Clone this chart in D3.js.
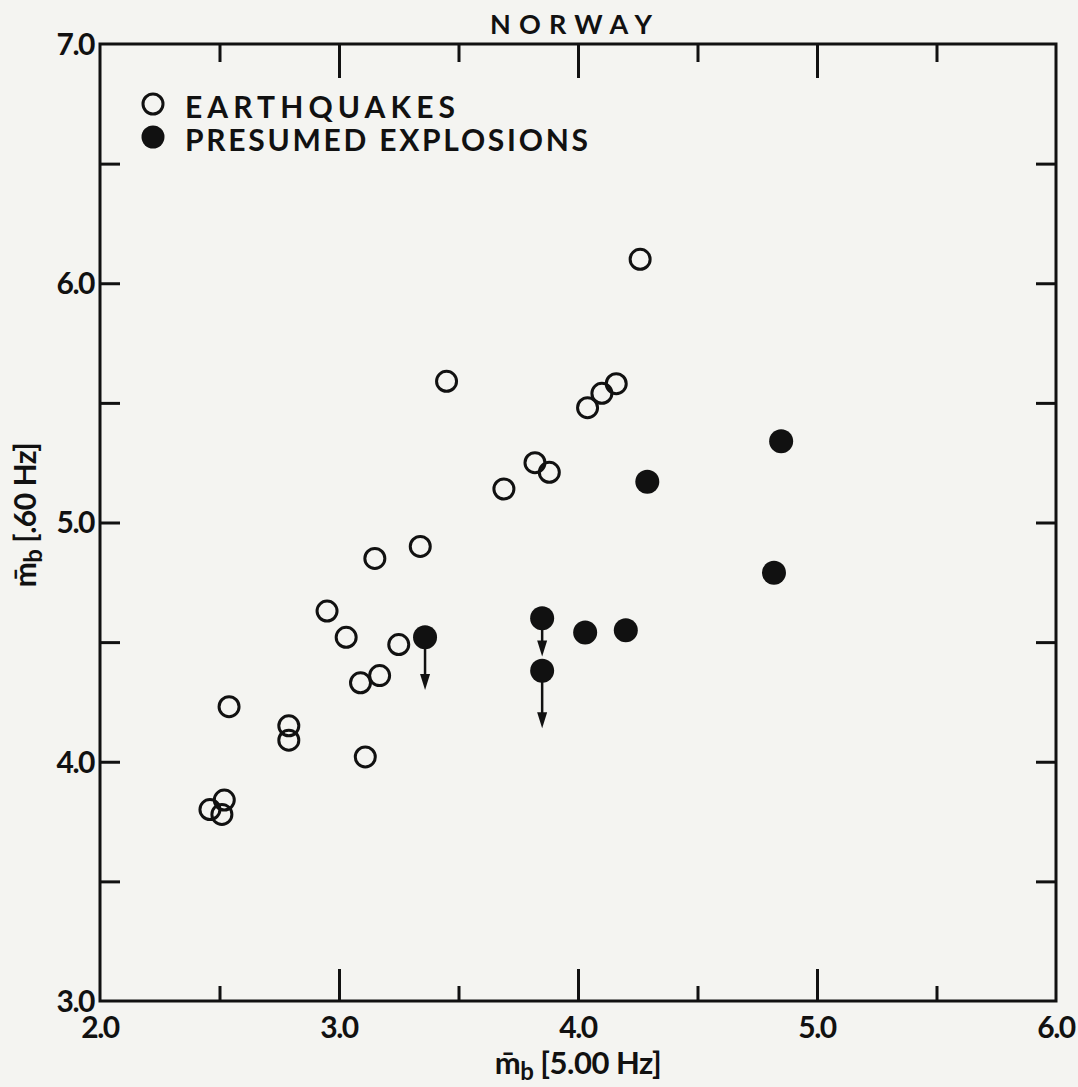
<!DOCTYPE html>
<html>
<head>
<meta charset="utf-8">
<script src="https://cdn.jsdelivr.net/npm/d3@7/dist/d3.min.js"></script>
<style>
  body { margin: 0; background: #f4f4f1; }
  svg { display: block; }
  text { font-family: Lato, "Open Sans", sans-serif; font-weight: bold; fill: #111; }
</style>
</head>
<body>
<div id="chart"></div>
<script>
// 地震 (空心圓)
const quakeX = [2.46, 2.51, 2.52, 2.54, 2.79, 2.79, 2.95, 3.03, 3.09, 3.11, 3.15,
                3.17, 3.25, 3.34, 3.45, 3.69, 3.82, 3.88, 4.04, 4.10, 4.16, 4.26];
const quakeY = [3.80, 3.78, 3.84, 4.23, 4.15, 4.09, 4.63, 4.52, 4.33, 4.02, 4.85,
                4.36, 4.49, 4.90, 5.59, 5.14, 5.25, 5.21, 5.48, 5.54, 5.58, 6.10];

// 推定爆炸 (實心圓)，blastLimit 為箭頭終點 (上限值)
const blastX = [3.36, 3.85, 3.85, 4.03, 4.20, 4.29, 4.82, 4.85];
const blastY = [4.52, 4.60, 4.38, 4.54, 4.55, 5.17, 4.79, 5.34];
const blastLimit = [4.30, 4.44, 4.14, null, null, null, null, null];

// 刻度
const xTickValues = [2.5, 3.0, 3.5, 4.0, 4.5, 5.0, 5.5];
const yTickValues = [3.5, 4.0, 4.5, 5.0, 5.5, 6.0, 6.5];
const xLabelValues = [2, 3, 4, 5, 6];
const yLabelValues = [3, 4, 5, 6, 7];

const title = "NORWAY";
const legendNames = ["EARTHQUAKES", "PRESUMED EXPLOSIONS"];

// 版面
const W = 1078, H = 1087;
const margin = { top: 44, right: 22, bottom: 86, left: 100 };
const width = W - margin.left - margin.right;
const height = H - margin.top - margin.bottom;

const svg = d3.select("#chart")
    .append("svg")
    .attr("width", W)
    .attr("height", H);

svg.append("rect").attr("width", W).attr("height", H).attr("fill", "#f4f4f1");

const g = svg.append("g")
    .attr("transform", `translate(${margin.left}, ${margin.top})`);

const xScale = d3.scaleLinear().domain([2, 6]).range([0, width]);
const yScale = d3.scaleLinear().domain([3, 7]).range([height, 0]);

const isMajor = d => Number.isInteger(d);

// 刻度線 (向內)
function styleTicks(sel) {
    sel.select(".domain").remove();
    sel.selectAll(".tick line").attr("stroke", "#111").attr("stroke-width", 3);
    sel.selectAll(".tick text").remove();
}

g.append("g")
    .attr("transform", `translate(0, ${height})`)
    .call(d3.axisBottom(xScale).tickValues(xTickValues).tickSizeOuter(0))
    .call(styleTicks)
    .selectAll(".tick line").attr("y2", d => isMajor(d) ? -32 : -15);

g.append("g")
    .call(d3.axisTop(xScale).tickValues(xTickValues).tickSizeOuter(0))
    .call(styleTicks)
    .selectAll(".tick line").attr("y2", d => isMajor(d) ? 34 : 18);

g.append("g")
    .call(d3.axisLeft(yScale).tickValues(yTickValues).tickSizeOuter(0))
    .call(styleTicks)
    .selectAll(".tick line").attr("x2", 20);

g.append("g")
    .attr("transform", `translate(${width}, 0)`)
    .call(d3.axisRight(yScale).tickValues(yTickValues).tickSizeOuter(0))
    .call(styleTicks)
    .selectAll(".tick line").attr("x2", -20);

// 外框
g.append("rect")
    .attr("width", width)
    .attr("height", height)
    .attr("fill", "none")
    .attr("stroke", "#111")
    .attr("stroke-width", 3);

// 刻度標籤
g.append("g")
    .selectAll("text")
    .data(xLabelValues)
    .enter().append("text")
    .attr("x", d => xScale(d))
    .attr("y", height + 37)
    .attr("text-anchor", "middle")
    .attr("font-size", 30)
    .attr("letter-spacing", -1.5)
    .text(d => d.toFixed(1));

g.append("g")
    .selectAll("text")
    .data(yLabelValues)
    .enter().append("text")
    .attr("x", -6)
    .attr("y", d => yScale(d))
    .attr("dy", "0.36em")
    .attr("text-anchor", "end")
    .attr("font-size", 30)
    .attr("letter-spacing", -1.5)
    .text(d => d.toFixed(1));

// 標題
svg.append("text")
    .attr("x", 490)
    .attr("y", 34)
    .attr("font-size", 27)
    .attr("textLength", 162)
    .attr("lengthAdjust", "spacing")
    .text(title);

// 軸標題
function axisTitle(sel, unit) {
    sel.append("tspan").text("m\u0304");
    sel.append("tspan").attr("dy", 6).attr("font-size", 24).text("b");
    sel.append("tspan").attr("dy", -6).text(" [" + unit + "]");
}

svg.append("text")
    .attr("x", margin.left + width / 2)
    .attr("y", 1074)
    .attr("text-anchor", "middle")
    .attr("font-size", 31)
    .attr("letter-spacing", -0.5)
    .call(axisTitle, "5.00 Hz");

svg.append("text")
    .attr("transform", "translate(36, 515) rotate(-90)")
    .attr("text-anchor", "middle")
    .attr("font-size", 30)
    .attr("letter-spacing", -0.5)
    .call(axisTitle, ".60 Hz");

// 爆炸點的箭頭 (上限)
const arrowIdx = d3.range(blastX.length).filter(i => blastLimit[i] !== null);
const arrows = g.append("g");
arrows.selectAll("line")
    .data(arrowIdx)
    .enter().append("line")
    .attr("x1", i => xScale(blastX[i]))
    .attr("x2", i => xScale(blastX[i]))
    .attr("y1", i => yScale(blastY[i]))
    .attr("y2", i => yScale(blastLimit[i]) - 8)
    .attr("stroke", "#111")
    .attr("stroke-width", 2.5);
arrows.selectAll("path")
    .data(arrowIdx)
    .enter().append("path")
    .attr("d", i => {
        const x = xScale(blastX[i]), y = yScale(blastLimit[i]);
        return `M${x},${y} L${x - 5},${y - 16} L${x + 5},${y - 16} Z`;
    })
    .attr("fill", "#111");

// 地震點
g.append("g")
    .selectAll("circle")
    .data(quakeX)
    .enter().append("circle")
    .attr("cx", d => xScale(d))
    .attr("cy", (d, i) => yScale(quakeY[i]))
    .attr("r", 10)
    .attr("fill", "none")
    .attr("stroke", "#111")
    .attr("stroke-width", 3);

// 爆炸點
g.append("g")
    .selectAll("circle")
    .data(blastX)
    .enter().append("circle")
    .attr("cx", d => xScale(d))
    .attr("cy", (d, i) => yScale(blastY[i]))
    .attr("r", 12)
    .attr("fill", "#111");

// 圖例
const legendWidths = [270, 403];
const legend = svg.append("g")
    .selectAll(".legend")
    .data(legendNames)
    .enter().append("g")
    .attr("class", "legend")
    .attr("transform", (d, i) => `translate(0, ${i * 33})`);

legend.append("circle")
    .attr("cx", 153)
    .attr("cy", 104)
    .attr("r", (d, i) => i === 0 ? 10 : 11.5)
    .attr("fill", (d, i) => i === 0 ? "none" : "#111")
    .attr("stroke", (d, i) => i === 0 ? "#111" : "none")
    .attr("stroke-width", 3);

legend.append("text")
    .attr("x", 185)
    .attr("y", 118)
    .attr("font-size", 30)
    .attr("textLength", (d, i) => legendWidths[i])
    .attr("lengthAdjust", "spacing")
    .text(d => d);
</script>
</body>
</html>
